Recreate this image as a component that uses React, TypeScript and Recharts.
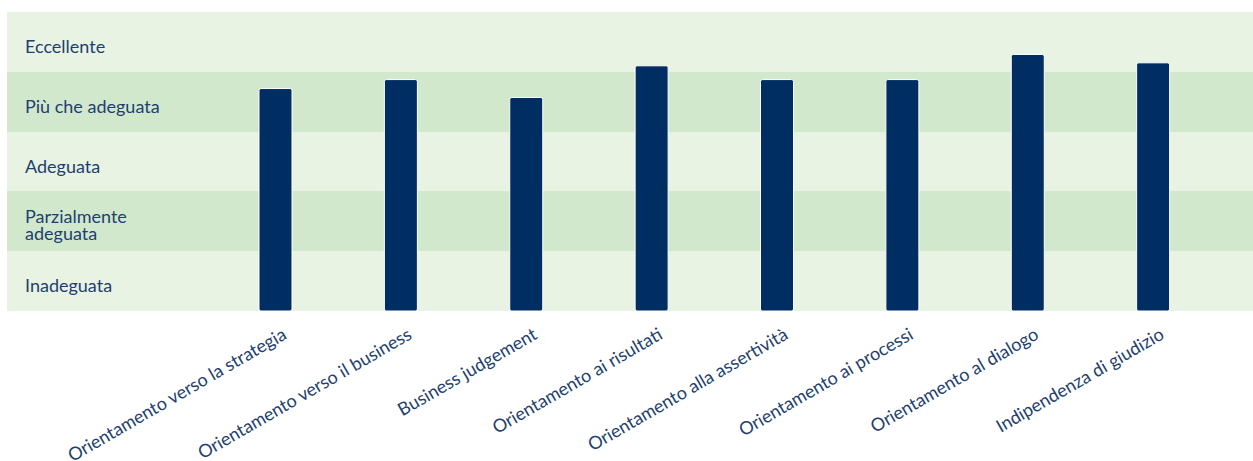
import React from 'react';
import { BarChart, Bar, XAxis, YAxis, CartesianGrid, ReferenceArea } from 'recharts';

const categories = [
  'Orientamento verso la strategia',
  'Orientamento verso il business',
  'Business judgement',
  'Orientamento ai risultati',
  'Orientamento alla assertività',
  'Orientamento ai processi',
  'Orientamento al dialogo',
  'Indipendenza di giudizio',
];
const scores = [3.72, 3.87, 3.57, 4.1, 3.87, 3.87, 4.29, 4.15];
const levelLabels = ['Inadeguata', 'Parzialmente\nadeguata', 'Adeguata', 'Più che adeguata', 'Eccellente'];
const gridTicks = [0, 1, 2, 3, 4, 5];

const data = categories.map((c, i) => ({ name: c, value: scores[i] }));

const FONT = 'Lato, "Open Sans", sans-serif';
const TEXT = '#1e3f6f';

const XTick = (props: any) => {
  const { x, y, payload } = props;
  return (
    <g transform={`translate(${x + 12},${y + 27})`}>
      <text transform="rotate(-30)" textAnchor="end" fill={TEXT} fontSize={18} fontFamily={FONT}>
        {payload.value}
      </text>
    </g>
  );
};

const makeBandLabel = (label: string) => (props: any) => {
  const vb = props.viewBox || {};
  const cy = (vb.y ?? 0) + (vb.height ?? 0) / 2;
  const lines = label.split('\n');
  if (lines.length === 1) {
    return (
      <text x={25} y={cy + 11} fill={TEXT} fontSize={18} fontFamily={FONT}>
        {label}
      </text>
    );
  }
  return (
    <text x={25} y={cy + 1.5} fill={TEXT} fontSize={18} fontFamily={FONT}>
      {lines.map((l, i) => (
        <tspan key={i} x={25} dy={i === 0 ? 0 : 17}>
          {l}
        </tspan>
      ))}
    </text>
  );
};

export default function App() {
  return (
    <div style={{ position: 'absolute', left: 0, top: 0, width: 1253, height: 461, background: '#fff' }}>
      <BarChart
        width={1253}
        height={461}
        data={data}
        margin={{ top: 12, right: 0, bottom: 0, left: 7 }}
        barCategoryGap={0}
      >
        <CartesianGrid
          vertical={false}
          horizontal={true}
          stroke="none"
          horizontalFill={['#e8f3e3', '#d2e8cc']}
          fillOpacity={1}
        />
        <XAxis
          dataKey="name"
          interval={0}
          axisLine={false}
          tickLine={false}
          tickSize={0}
          tickMargin={0}
          height={150}
          padding={{ left: 206, right: 37 }}
          tick={<XTick />}
        />
        <YAxis domain={[0, 5]} ticks={gridTicks} width={0} hide />
        {levelLabels.map((label, i) => (
          <ReferenceArea
            key={label}
            y1={i}
            y2={i + 1}
            fill="none"
            fillOpacity={0}
            stroke="none"
            ifOverflow="visible"
            label={makeBandLabel(label)}
          />
        ))}
        <Bar
          dataKey="value"
          fill="#002e63"
          stroke="#ffffff"
          strokeWidth={1}
          barSize={33}
          radius={[2, 2, 2, 2]}
          isAnimationActive={false}
        />
      </BarChart>
    </div>
  );
}
